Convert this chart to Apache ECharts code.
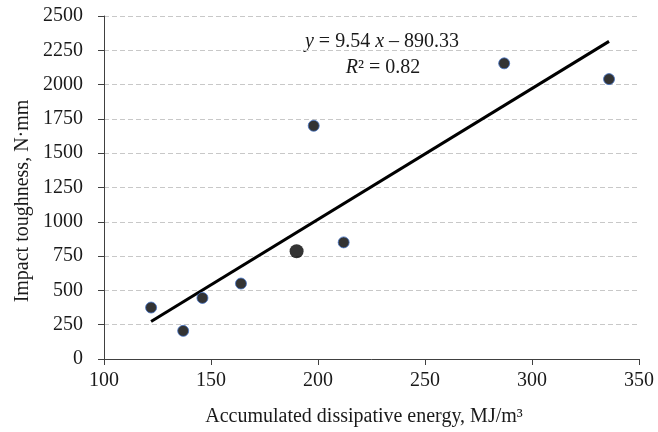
<!DOCTYPE html>
<html>
<head>
<meta charset="utf-8">
<script src="https://cdn.jsdelivr.net/npm/echarts@6/dist/echarts.min.js"></script>
<style>html,body{margin:0;padding:0;background:#fff;}#c{width:658px;height:432px;}</style>
</head>
<body>
<div id="c"></div>
<script>
// Data
var energy = [122, 137, 146, 164, 198, 212, 287, 336];
var toughness = [375, 205, 445, 550, 1700, 850, 2155, 2040];
var highlightPoint = [[190, 785]];
var trendX = [122, 336];
var trendY = [274, 2315];
var xTicks = [100, 150, 200, 250, 300, 350];
var yTicks = [0, 250, 500, 750, 1000, 1250, 1500, 1750, 2000, 2250, 2500];
var xTitle = 'Accumulated dissipative energy, MJ/m\u00b3';
var yTitle = 'Impact toughness, N\u00b7mm';

var scatterData = energy.map(function (x, i) { return [x, toughness[i]]; });
var trendData = trendX.map(function (x, i) { return [x, trendY[i]]; });

var font = 'Liberation Serif';
var fs = 20;
var txt = '#1a1a1a';
var chart = echarts.init(document.getElementById('c'), null, { renderer: 'canvas' });
chart.setOption({
  animation: false,
  backgroundColor: '#fff',
  grid: { left: 104, right: 19, top: 16, bottom: 73, containLabel: false },
  xAxis: {
    type: 'value', min: xTicks[0], max: xTicks[xTicks.length - 1], interval: 50,
    axisLine: { show: true, onZero: false, lineStyle: { color: '#404040', width: 1 } },
    axisTick: { show: true, length: 6, lineStyle: { color: '#404040' } },
    axisLabel: { margin: 12, fontFamily: font, fontSize: fs, color: txt, formatter: function (v) { return String(v); } },
    splitLine: { show: false }
  },
  yAxis: {
    type: 'value', min: yTicks[0], max: yTicks[yTicks.length - 1], interval: 250,
    axisLine: { show: true, lineStyle: { color: '#404040', width: 1 } },
    axisTick: { show: true, length: 6, lineStyle: { color: '#404040' } },
    axisLabel: { margin: 21, fontFamily: font, fontSize: fs, color: txt, formatter: function (v) { return String(v); } },
    splitLine: { show: true, lineStyle: { color: '#c8c8c8', type: [5, 3], width: 1 } }
  },
  series: [
    {
      type: 'line', data: trendData, symbol: 'none', z: 2,
      lineStyle: { color: '#000', width: 3 }
    },
    {
      type: 'scatter', data: scatterData, symbol: 'circle', symbolSize: 11, z: 3,
      itemStyle: { color: '#000', borderColor: '#4472c4', borderWidth: 1 }
    },
    {
      type: 'scatter', data: highlightPoint, symbol: 'circle', symbolSize: 14, z: 3,
      itemStyle: { color: '#000' }
    }
  ],
  graphic: [
    {
      type: 'text', x: 382, y: 42,
      style: {
        text: '{i|y} = 9.54 {i|x} \u2013 890.33',
        font: fs + 'px "Liberation Serif"', fill: txt, align: 'center', verticalAlign: 'middle',
        rich: { i: { fontStyle: 'italic', fontFamily: font, fontSize: fs, fill: txt } }
      }
    },
    {
      type: 'text', x: 383, y: 68,
      style: {
        text: '{i|R}\u00b2 = 0.82',
        font: fs + 'px "Liberation Serif"', fill: txt, align: 'center', verticalAlign: 'middle',
        rich: { i: { fontStyle: 'italic', fontFamily: font, fontSize: fs, fill: txt } }
      }
    },
    {
      type: 'text', x: 364, y: 417,
      style: { text: xTitle, font: fs + 'px "Liberation Serif"', fill: txt, align: 'center', verticalAlign: 'middle' }
    },
    {
      type: 'text', x: 23, y: 201, rotation: Math.PI / 2,
      style: { text: yTitle, font: fs + 'px "Liberation Serif"', fill: txt, align: 'center', verticalAlign: 'middle' }
    }
  ]
});
</script>
</body>
</html>
